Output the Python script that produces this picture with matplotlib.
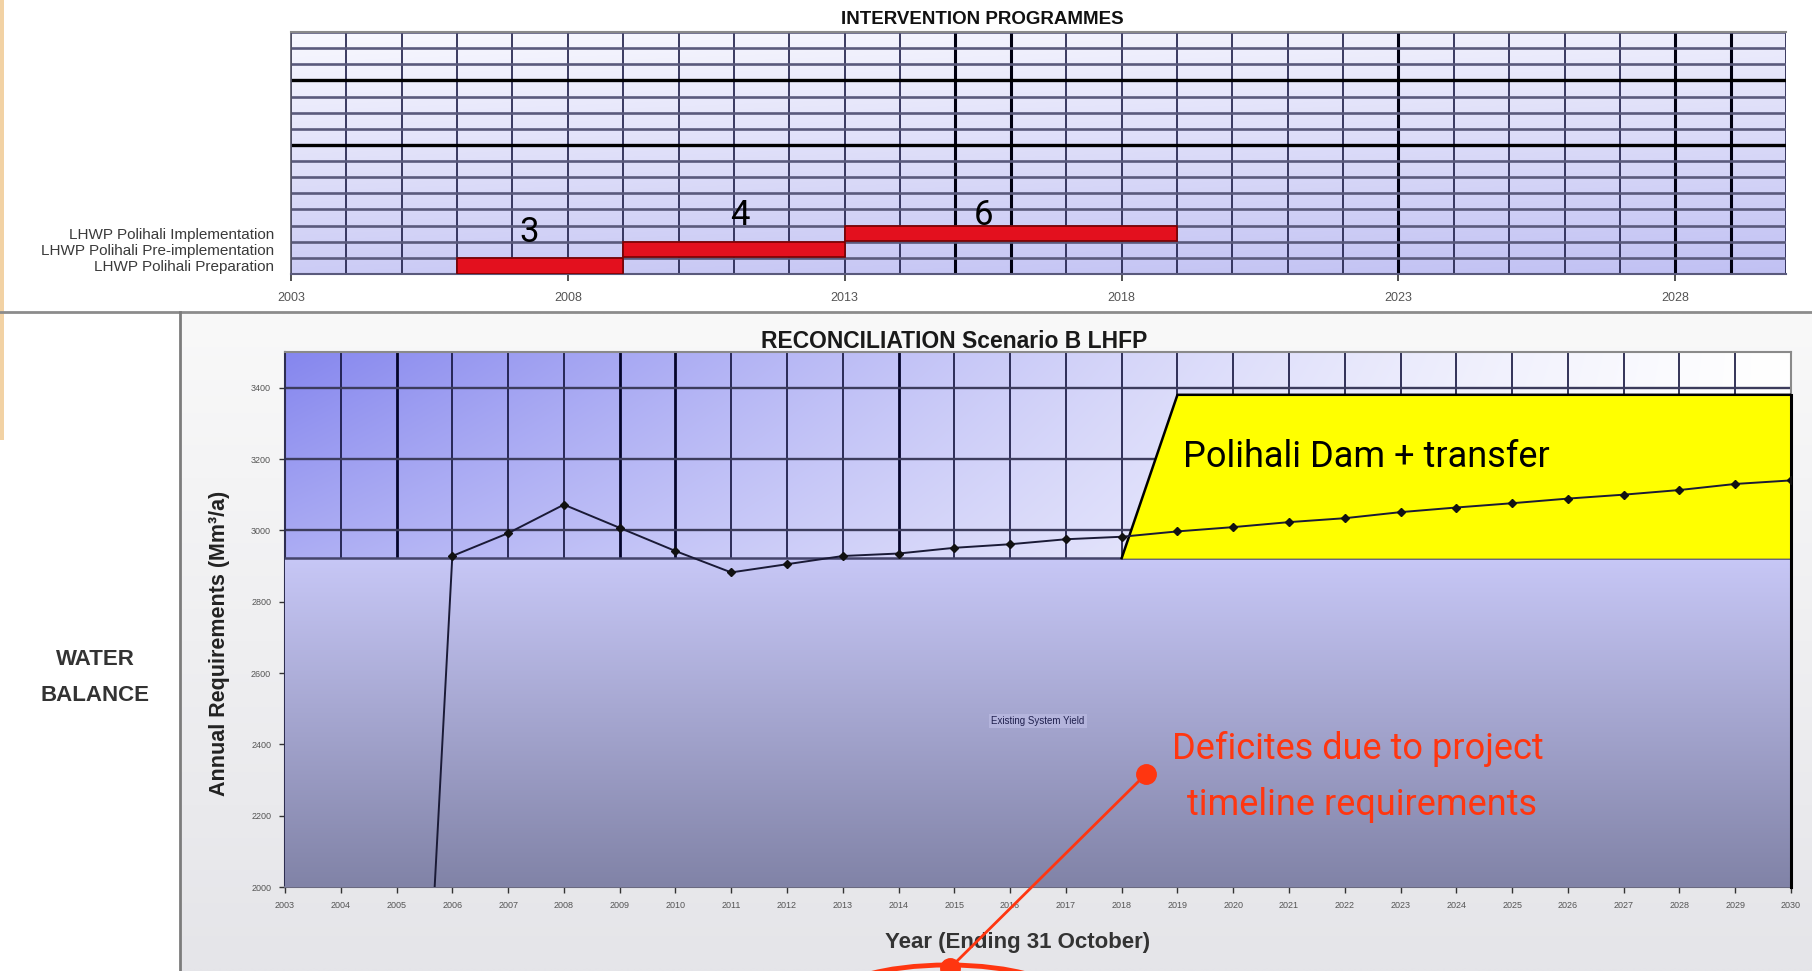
import numpy as np
import matplotlib
matplotlib.use('Agg')
import matplotlib.pyplot as plt
from matplotlib import font_manager
from matplotlib.patches import Ellipse, Rectangle
from matplotlib.colors import to_rgb

# ---------------- data ----------------
prog_labels = ["LHWP Polihali Preparation",
               "LHWP Polihali Pre-implementation",
               "LHWP Polihali Implementation"]
prog_start = [2006, 2009, 2013]
prog_duration = [3, 4, 6]
n_rows = 15
gantt_ticks = [2003, 2008, 2013, 2018, 2023, 2028]
year_range = [2003, 2030]

req_years = list(range(2005, 2031))
req_values = [0, 2928, 2992, 3072, 3007, 2942, 2882, 2905, 2928, 2935,
              2951, 2961, 2975, 2982, 2997, 3009, 3023, 3034, 3051, 3064,
              3076, 3089, 3100, 3113, 3130, 3140]
yield_years = [2003, 2030]
existing_yield = [2922, 2922]
polihali_years = [2018, 2019, 2030]
polihali_total = [2922, 3380, 3380]
bal_yticks = [2000, 2200, 2400, 2600, 2800, 3000, 3200, 3400]
bal_ylim = [2000, 3500]
bal_xticks = list(range(2003, 2031))

# ---------------- fonts ----------------
names = {f.name for f in font_manager.fontManager.ttflist}
NARROW = 'Liberation Sans Narrow' if 'Liberation Sans Narrow' in names else 'Roboto'
BIG = 30 if NARROW == 'Liberation Sans Narrow' else 26
plt.rcParams['font.family'] = ['Liberation Sans', 'DejaVu Sans']

W, H = 1812, 971


def lerp(c0, c1, t):
    a = np.array(to_rgb(c0)); b = np.array(to_rgb(c1))
    return a[None, None, :] * (1 - t[..., None]) + b[None, None, :] * t[..., None]


def fig_rect(l, t, r, b):
    return [l / W, 1 - b / H, (r - l) / W, (b - t) / H]


fig = plt.figure(figsize=(W / 100, H / 100), dpi=100)
fig.patch.set_facecolor('white')

# ---------------- background layout ----------------
bg = fig.add_axes([0, 0, 1, 1], zorder=-10)
g = np.linspace(0, 1, 120)[:, None] * np.ones((1, 4))
bg.imshow(lerp('#f9f9f9', '#e5e5e9', g), extent=(180, W, H, 312), origin='upper',
          aspect='auto', interpolation='bilinear')
bg.plot([0, W], [312, 312], color='#8c8c8c', lw=2)
bg.plot([180, 180], [312, H], color='#7c7c7c', lw=2)
bg.add_patch(Rectangle((0, 0), 4, 440, color='#f2d2a4', lw=0))
bg.set_xlim(0, W); bg.set_ylim(H, 0); bg.axis('off')

# ---------------- top chart: intervention programmes ----------------
ax1 = fig.add_axes(fig_rect(291, 32, 1786, 274), zorder=1)
X, Y = np.meshgrid(np.linspace(0, 1, 300), np.linspace(1, 0, 200))
t = np.clip(0.04 + 0.72 * (1 - Y) + 0.18 * X, 0, 1)
ax1.imshow(lerp('#fbfbff', '#bdbdf2', t), extent=[year_range[0], year_range[1], 0, n_rows],
           origin='upper', aspect='auto', zorder=0, interpolation='bilinear')
all_years = list(range(year_range[0], year_range[1] + 1))
bold_v = [2015, 2016, 2023, 2028, 2029]
ax1.vlines([y for y in all_years if y not in bold_v], 0, n_rows, colors='#1c1c46', lw=1.2, zorder=1)
ax1.vlines(bold_v, 0, n_rows, colors='#000010', lw=2.2, zorder=1)
bold_h = [8, 12]
ax1.hlines([r for r in range(n_rows + 1) if r not in bold_h], year_range[0], year_range[1],
           colors='#5a5a7c', lw=1.9, zorder=1)
ax1.hlines(bold_h, year_range[0], year_range[1], colors='#000000', lw=2.4, zorder=1)

rows = [i + 0.5 for i in range(len(prog_labels))]
ax1.barh(rows, prog_duration, left=prog_start, height=0.95,
         color='#e3101e', edgecolor='#7a0000', lw=1.2, zorder=3)
num_x = [2007.3, 2011.1, 2015.5]
num_y = [2.6, 3.65, 3.65]
for x, y, d in zip(num_x, num_y, prog_duration):
    ax1.text(x, y, str(d), fontsize=BIG - 1, family=NARROW, ha='center', va='center', zorder=5)

ax1.set_xlim(year_range); ax1.set_ylim(0, n_rows)
ax1.set_xticks(gantt_ticks)
ax1.set_xticklabels([str(v) for v in gantt_ticks], fontsize=9, color='#555555')
ax1.set_yticks(rows)
ax1.set_yticklabels(prog_labels, fontsize=11, color='#3a3a3a')
ax1.tick_params(axis='x', length=5, width=1.2, color='#333333', pad=8)
ax1.tick_params(axis='y', length=0, pad=12)
ax1.spines['top'].set_color('#8a8a8a'); ax1.spines['top'].set_linewidth(1.5)
ax1.spines['left'].set_color('#555566'); ax1.spines['left'].set_linewidth(1.2)
ax1.spines['bottom'].set_color('#5a5a7c'); ax1.spines['bottom'].set_linewidth(1.5)
ax1.spines['right'].set_visible(False)

fig.text(982 / W, 1 - 19 / H, 'INTERVENTION PROGRAMMES', fontsize=13.5, fontweight='bold',
         ha='center', va='center', color='#111111')

# ---------------- bottom chart: reconciliation ----------------
ax2 = fig.add_axes(fig_rect(285, 352, 1791, 887), zorder=2)
X, Y = np.meshgrid(np.linspace(0, 1, 400), np.linspace(1, 0, 300))
yv = bal_ylim[0] + Y * (bal_ylim[1] - bal_ylim[0])
yrel = np.clip((yv - existing_yield[0]) / (bal_ylim[1] - existing_yield[0]), 0, 1)
inten = np.clip((1 - X) ** 1.3 * (0.68 + 0.32 * yrel), 0, 1)
ax2.imshow(lerp('#ffffff', '#8586ee', inten), extent=[year_range[0], year_range[1], bal_ylim[0], bal_ylim[1]],
           origin='upper', aspect='auto', zorder=0, interpolation='bilinear')

bold_v2 = [2005, 2009, 2010, 2014]
ax2.vlines([y for y in bal_xticks if y not in bold_v2], bal_ylim[0], bal_ylim[1],
           colors='#12123c', lw=1.2, zorder=1)
ax2.vlines(bold_v2, bal_ylim[0], bal_ylim[1], colors='#05052a', lw=2.0, zorder=1)
ax2.hlines(bal_yticks, year_range[0], year_range[1], colors='#3c3c5c', lw=1.7, zorder=1)

# existing system yield (gradient fill)
poly = ax2.fill_between(yield_years, bal_ylim[0], existing_yield, facecolor='none',
                        edgecolor='none', zorder=3)
gy = np.linspace(0, 1, 200)[:, None] * np.ones((1, 4))
im = ax2.imshow(lerp('#c7c7f6', '#8183a7', gy),
                extent=[yield_years[0], yield_years[-1], bal_ylim[0], max(existing_yield)],
                origin='upper', aspect='auto', zorder=3, interpolation='bilinear')
im.set_clip_path(poly.get_paths()[0], transform=ax2.transData)
ax2.plot(yield_years, existing_yield, color='#44446a', lw=1.8, zorder=4)

# Polihali additional yield
base = np.interp(polihali_years, yield_years, existing_yield)
ax2.fill_between(polihali_years, base, polihali_total, color='#ffff00', lw=0, zorder=4)
ax2.plot(polihali_years, polihali_total, color='black', lw=1.8, zorder=4.5)
ax2.plot([polihali_years[-1]] * 2, [bal_ylim[0], polihali_total[-1]], color='black', lw=2.2,
         zorder=4.5, clip_on=False)

# requirement line
ax2.plot(req_years, req_values, color='#1a1a36', lw=1.4, marker='D', ms=3.8,
         mfc='#111111', mec='#111111', zorder=6)

ax2.text(2019.1, 3205, 'Polihali Dam + transfer', fontsize=BIG, family=NARROW,
         ha='left', va='center', zorder=7)
ax2.text(2016.5, 2465, 'Existing System Yield', fontsize=7, color='#20204e',
         ha='center', va='center', zorder=7,
         bbox=dict(boxstyle='square,pad=0.2', fc='#b4b4dc', ec='none'))

ax2.set_xlim(year_range); ax2.set_ylim(bal_ylim)
ax2.set_xticks(bal_xticks)
ax2.set_xticklabels([str(v) for v in bal_xticks], fontsize=6.5, color='#555555')
ax2.set_yticks(bal_yticks)
ax2.set_yticklabels([str(v) for v in bal_yticks], fontsize=6.5, color='#555555')
ax2.tick_params(length=4, width=1, color='#333333', pad=6)
ax2.spines['top'].set_color('#8a8a8a'); ax2.spines['top'].set_linewidth(1.5)
ax2.spines['left'].set_color('#2e2e50'); ax2.spines['left'].set_linewidth(1.5)
ax2.spines['bottom'].set_color('#6a6a80'); ax2.spines['bottom'].set_linewidth(1.5)
ax2.spines['right'].set_color('#8a8a8a'); ax2.spines['right'].set_linewidth(1.5)

fig.text(954 / W, 1 - 341 / H, 'RECONCILIATION Scenario B LHFP', fontsize=16.5, fontweight='bold',
         ha='center', va='center', color='#1a1a1a')
fig.text(219 / W, 1 - 643 / H, 'Annual Requirements (Mm³/a)', fontsize=15.5, fontweight='bold',
         rotation=90, ha='center', va='center', color='#222222')
fig.text(1018 / W, 1 - 942 / H, 'Year (Ending 31 October)', fontsize=16, fontweight='bold',
         ha='center', va='center', color='#333333')
fig.text(95 / W, 1 - 659 / H, 'WATER', fontsize=16, fontweight='bold', ha='center', va='center',
         color='#333333')
fig.text(95 / W, 1 - 695 / H, 'BALANCE', fontsize=16, fontweight='bold', ha='center', va='center',
         color='#333333')

# ---------------- overlay annotation ----------------
ov = fig.add_axes([0, 0, 1, 1], zorder=20)
ov.set_xlim(0, W); ov.set_ylim(H, 0); ov.axis('off')
RED = '#ff3610'
ov.plot([1146, 950], [774, 968], color=RED, lw=2)
ov.plot([1146, 950], [774, 968], 'o', color=RED, ms=14)
ov.add_patch(Ellipse((948, 1000), 235, 70, fc='none', ec=RED, lw=3.5))
ov.text(1358, 749, 'Deficites due to project', fontsize=BIG, family=NARROW, color=RED,
        ha='center', va='center')
ov.text(1362, 805, 'timeline requirements', fontsize=BIG, family=NARROW, color=RED,
        ha='center', va='center')

fig.savefig('out.png', dpi=100)
